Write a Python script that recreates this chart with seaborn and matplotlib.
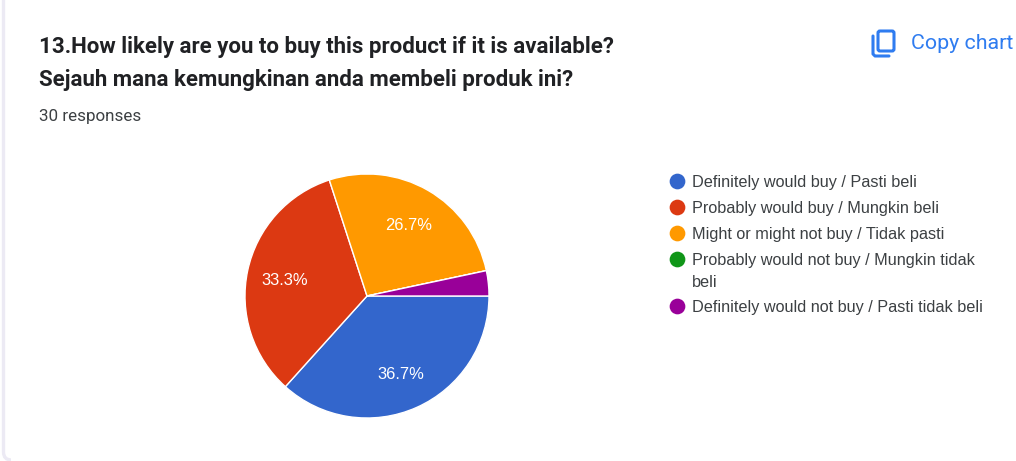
import matplotlib
matplotlib.use("Agg")
import matplotlib.pyplot as plt
from matplotlib.patches import FancyBboxPatch
import seaborn as sns

# Survey results: number of respondents per answer
answers = [
    "Definitely would buy / Pasti beli",
    "Probably would buy / Mungkin beli",
    "Might or might not buy / Tidak pasti",
    "Probably would not buy / Mungkin tidak\nbeli",
    "Definitely would not buy / Pasti tidak beli",
]
counts = [11, 10, 8, 0, 1]
colors = ["#3366CC", "#DC3912", "#FF9900", "#109618", "#990099"]
title_lines = [
    "13.How likely are you to buy this product if it is available?",
    "Sejauh mana kemungkinan anda membeli produk ini?",
]
subtitle = "30 responses"
action_label = "Copy chart"

sns.set_theme(style="white")
W, H = 1016, 461
fig = plt.figure(figsize=(W / 100, H / 100), dpi=100, facecolor="white")

# Full-figure overlay in pixel coordinates for the card, heading and legend
page = fig.add_axes([0, 0, 1, 1])
page.set_xlim(0, W)
page.set_ylim(H, 0)
page.axis("off")

# Card edge on the left
page.add_patch(FancyBboxPatch((3.5, -30), 40, H + 30 - 1, boxstyle="round,pad=0,rounding_size=8",
                              fc="white", ec="#ECEAF4", lw=2.4))
page.add_patch(plt.Rectangle((11, 0), W, H, fc="white", ec="none"))

# Heading
page.text(39, 47, title_lines[0], family="Roboto", weight="bold", fontsize=16.07,
          color="#202124", va="center")
page.text(39, 80, title_lines[1], family="Roboto", weight="bold", fontsize=16.07,
          color="#202124", va="center")
page.text(39, 116.5, subtitle, family="Roboto", fontsize=12.25, color="#3C4043", va="center")

# Copy icon and label
blue = "#2F7CF0"
page.add_patch(FancyBboxPatch((878, 31), 16, 20, boxstyle="round,pad=0,rounding_size=2",
                              fc="none", ec=blue, lw=2.2))
page.plot([873, 873, 875, 889], [36, 54, 56, 56], color=blue, lw=2.2,
          solid_capstyle="round", solid_joinstyle="round")
page.text(911, 43.5, action_label, family="Roboto", fontsize=15.4, color=blue, va="center")

# Legend rows; the wrapped entry keeps its marker on the first line
row_y = [181, 207, 233, 259, 306]
for y, label, color in zip(row_y, answers, colors):
    page.scatter([677], [y], s=128, color=color, linewidths=0)
    page.text(692, y + 1, label.split("\n")[0], family="Liberation Sans", fontsize=11.72,
              color="#3C4043", va="center")
    if "\n" in label:
        page.text(692, y + 23, label.split("\n")[1], family="Liberation Sans", fontsize=11.72,
                  color="#3C4043", va="center")

# Pie chart: centre (367, 296), radius 122 px
radius = 122
pie_ax = fig.add_axes([(367 - radius) / W, 1 - (296 + radius) / H, 2 * radius / W, 2 * radius / H])
wedges, _, pct_texts = pie_ax.pie(
    counts, colors=colors, startangle=0, counterclock=False, radius=1.0,
    autopct=lambda p: f"{p:.1f}%" if p > 5 else "", pctdistance=0.69,
    wedgeprops={"edgecolor": "white", "linewidth": 1},
    textprops={"family": "Liberation Sans", "fontsize": 11.9, "color": "white"},
)
pie_ax.set_xlim(-1, 1)
pie_ax.set_ylim(-1, 1)

# Nudge the percentage labels down slightly within their wedges
for t in pct_texts:
    x, y = t.get_position()
    t.set_position((x, y - 0.017))

fig.savefig("out.png", dpi=100)
